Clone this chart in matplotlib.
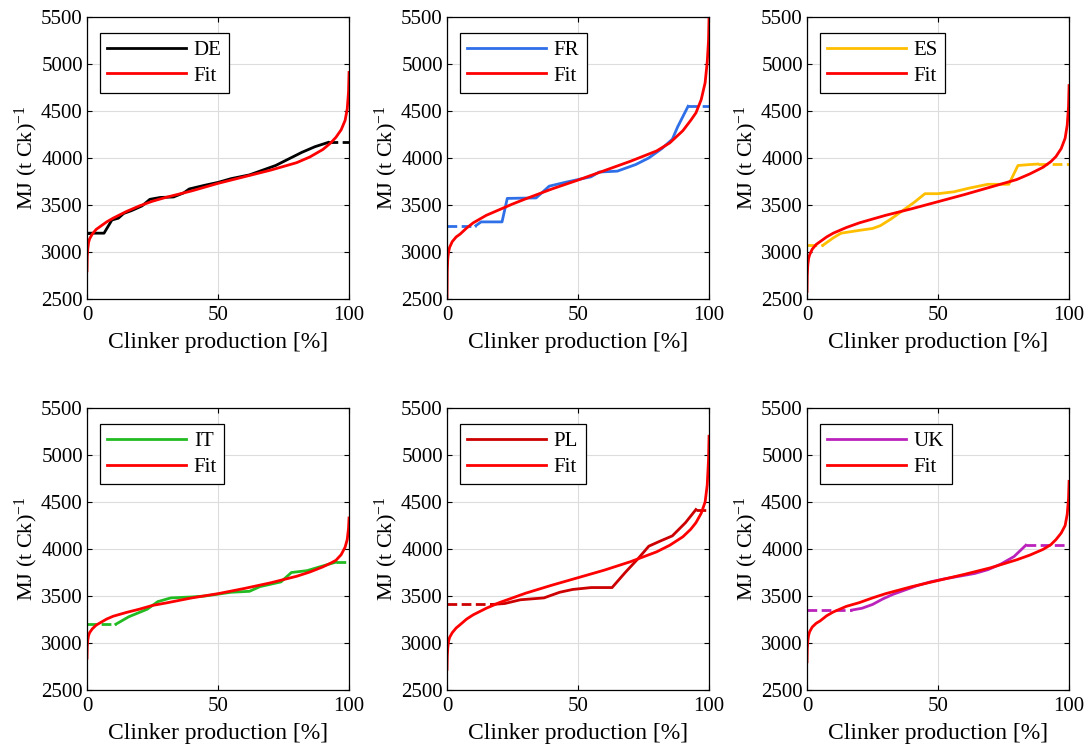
import numpy as np
import matplotlib
matplotlib.use('Agg')
import matplotlib.pyplot as plt

plt.rcParams['font.family'] = 'Liberation Serif'
plt.rcParams['mathtext.fontset'] = 'custom'
plt.rcParams['mathtext.rm'] = 'Liberation Serif'
plt.rcParams['mathtext.it'] = 'Liberation Serif:italic'

# shared x grid of the fitted curves (% of clinker production)
fit_x = [0, 0.1, 0.3, 0.6, 1, 2, 3.5, 5, 7.5, 10, 15, 20, 25, 30, 40, 50,
         60, 70, 80, 85, 90, 93, 95, 97, 98.5, 99.3, 99.8, 100]

# country data (cumulative production vs specific energy)
de_x = [1, 6.5, 9.5, 12, 14, 17, 21, 24, 28, 33, 37, 39, 45, 50, 55, 62,
        67, 72, 77, 82, 87, 92]
de_y = [3200, 3200, 3340, 3360, 3410, 3440, 3490, 3560, 3580, 3585, 3630,
        3670, 3710, 3740, 3780, 3820, 3870, 3920, 3990, 4060, 4120, 4165]
de_fit = [2800, 2950, 3030, 3100, 3140, 3190, 3240, 3270, 3320, 3360, 3430,
          3490, 3540, 3580, 3650, 3730, 3800, 3870, 3950, 4010, 4090, 4160,
          4220, 4300, 4400, 4520, 4700, 4910]

fr_x = [11, 13, 21, 23, 34, 39, 45, 50, 55, 58, 65, 72, 77, 82, 86, 88, 92]
fr_y = [3280, 3320, 3320, 3570, 3575, 3700, 3740, 3770, 3800, 3850, 3860,
        3930, 4000, 4100, 4200, 4330, 4550]
fr_fit = [2500, 2800, 2930, 3000, 3050, 3110, 3160, 3190, 3255, 3310, 3390,
          3450, 3510, 3565, 3670, 3765, 3865, 3965, 4075, 4160, 4290, 4400,
          4480, 4620, 4800, 5020, 5250, 5500]

es_x = [6, 10, 13, 20, 25, 28, 32, 37, 41, 45, 50, 56, 62, 69, 77, 80.5,
        85, 88]
es_y = [3070, 3150, 3200, 3230, 3250, 3280, 3350, 3450, 3530, 3620, 3620,
        3640, 3680, 3720, 3720, 3920, 3930, 3935]
es_fit = [2580, 2750, 2860, 2930, 2970, 3030, 3080, 3110, 3160, 3200, 3260,
          3310, 3350, 3390, 3460, 3535, 3610, 3690, 3770, 3830, 3900, 3960,
          4015, 4100, 4210, 4350, 4550, 4770]

it_x = [11, 16, 23, 27, 32, 40, 45, 50, 55, 62, 66, 74, 78, 84, 90, 95]
it_y = [3200, 3280, 3360, 3440, 3480, 3490, 3500, 3520, 3540, 3550, 3600,
        3650, 3750, 3770, 3820, 3860]
it_fit = [2840, 2960, 3030, 3080, 3110, 3150, 3190, 3215, 3255, 3285, 3325,
          3360, 3400, 3425, 3480, 3525, 3580, 3640, 3710, 3755, 3810, 3850,
          3880, 3940, 4020, 4100, 4220, 4330]

pl_x = [17, 22, 28, 37, 43, 48, 55, 63, 68, 73, 77, 81, 86, 91, 95]
pl_y = [3410, 3420, 3460, 3480, 3540, 3570, 3590, 3590, 3750, 3900, 4030,
        4080, 4140, 4280, 4420]
pl_fit = [2720, 2860, 2950, 3020, 3060, 3110, 3160, 3195, 3255, 3300, 3370,
          3430, 3480, 3530, 3615, 3695, 3775, 3865, 3970, 4040, 4130, 4210,
          4280, 4380, 4500, 4680, 4950, 5200]

uk_x = [17, 21, 25, 29, 33, 37, 42, 47, 52, 58, 64, 69, 74, 79, 83.5]
uk_y = [3350, 3370, 3410, 3470, 3520, 3560, 3610, 3650, 3680, 3710, 3740,
        3780, 3840, 3920, 4040]
uk_fit = [2800, 2940, 3020, 3080, 3120, 3170, 3210, 3235, 3290, 3330, 3390,
          3430, 3480, 3525, 3600, 3665, 3730, 3800, 3885, 3935, 3995, 4045,
          4100, 4170, 4250, 4370, 4540, 4720]

countries = ['DE', 'FR', 'ES', 'IT', 'PL', 'UK']
colors = ['#000000', '#2F6FE8', '#FFBF00', '#22BB22', '#CC0000', '#BB22BB']
data = [(de_x, de_y, de_fit), (fr_x, fr_y, fr_fit), (es_x, es_y, es_fit),
        (it_x, it_y, it_fit), (pl_x, pl_y, pl_fit), (uk_x, uk_y, uk_fit)]

fig = plt.figure(figsize=(10.86, 7.51), dpi=100)
lefts = [0.0801, 0.4116, 0.7431]
bottoms = [0.6019, 0.0812]
w, h = 0.2413, 0.3755
dash = (0, (3.5, 1.6))

for i, name in enumerate(countries):
    ax = fig.add_axes([lefts[i % 3], bottoms[i // 3], w, h])
    x, y, fit = data[i]
    c = colors[i]
    # dashed extrapolation at both ends of the data
    ax.plot([0, x[0]], [y[0], y[0]], color=c, lw=2, linestyle=dash)
    ax.plot([x[-1], 100], [y[-1], y[-1]], color=c, lw=2, linestyle=dash)
    ax.plot(x, y, color=c, lw=2, label=name)
    ax.plot(fit_x, fit, color='#FF0000', lw=2, label='Fit')

    ax.set_xlim(0, 100)
    ax.set_ylim(2500, 5500)
    ax.set_xticks([0, 50, 100])
    ax.set_yticks(np.arange(2500, 5501, 500))
    ax.grid(True, color='#DCDCDC', lw=0.8)
    ax.set_axisbelow(True)
    ax.tick_params(direction='in', length=3.5, width=0.8, labelsize=15,
                   top=True, right=True, pad=3, colors='black')
    ax.tick_params(axis='x', pad=5)
    for s in ax.spines.values():
        s.set_linewidth(0.9)
    ax.set_xlabel('Clinker production [%]', fontsize=17, labelpad=5)
    ax.set_ylabel('MJ (t Ck)$^{-1}$', fontsize=16, labelpad=1)
    leg = ax.legend(loc='upper left', bbox_to_anchor=(0.05, 0.943),
                    borderaxespad=0, fontsize=15, handlelength=3.75,
                    handletextpad=0.4, labelspacing=0.3, borderpad=0.35,
                    fancybox=False, framealpha=1, edgecolor='black')
    leg.get_frame().set_linewidth(0.9)

fig.savefig('out.png', dpi=100)
